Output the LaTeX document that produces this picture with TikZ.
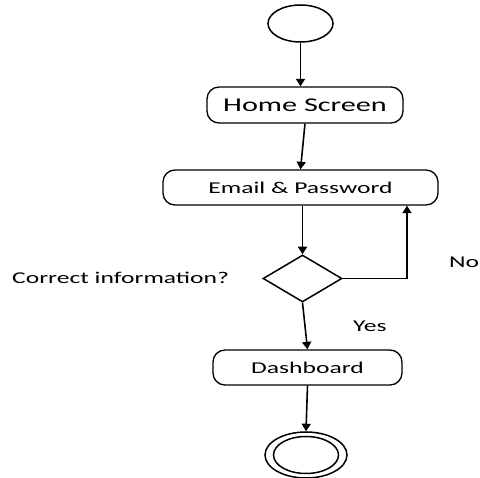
\documentclass[tikz,border=0pt]{standalone}
\usepackage{fontspec}
\setmainfont[FakeStretch=1.55]{Carlito}
\usetikzlibrary{shapes.geometric,arrows.meta}

\begin{document}
\begin{tikzpicture}[x=1pt,y=-1pt,
  flow/.style={line width=1.6pt,-{Triangle[length=7.5pt,width=9pt]}},
  activity/.style={draw,line width=1.3pt,rounded corners=12pt,inner sep=0pt,font=\fontsize{16.5}{20}\selectfont},
  label/.style={anchor=base west,inner sep=0pt,font=\fontsize{16.5}{20}\selectfont}]
\useasboundingbox (0,0) rectangle (480,478);
\node[draw,ellipse,line width=1.5pt,minimum width=65pt,minimum height=37pt,inner sep=0pt] (start) at (300.5,23.5) {};
\node[activity,minimum width=196pt,minimum height=36pt,font=\fontsize{19.5}{23}\selectfont] (home) at (305,105) {Home Screen};
\node[activity,minimum width=275pt,minimum height=35pt] (email) at (300.5,187.5) {Email \& Password};
\node[draw,diamond,line width=1.5pt,minimum width=79pt,minimum height=47pt,inner sep=0pt] (decision) at (302.5,278.5) {};
\node[activity,minimum width=189pt,minimum height=35pt] (dash) at (307.5,367.5) {Dashboard};
\node[draw,ellipse,line width=1.5pt,minimum width=82pt,minimum height=46pt,inner sep=0pt] (finish) at (306,455) {};
\draw[line width=1.5pt] (finish.center) ellipse [x radius=32.5pt,y radius=18.5pt];
\node[label] (question) at (12,284) {Correct information?};
\node[label] (yes) at (353,332) {Yes};
\node[label] (no) at (449,268) {No};
\draw[flow] (start) -- (start |- home.north);
\draw[flow] (home.south) -- (email.north);
\draw[flow] (decision |- email.south) -- (decision.north);
\draw[flow] (decision.east) -| ([xshift=106.5pt]email.south);
\draw[flow] (decision.south) -- (dash.north);
\draw[flow] (dash.south) -- (finish.north);
\end{tikzpicture}
\end{document}
